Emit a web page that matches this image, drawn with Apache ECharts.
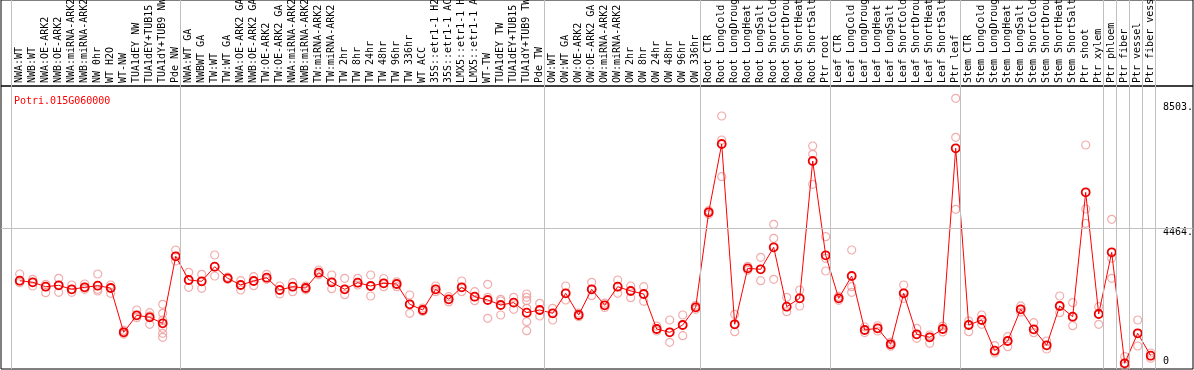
<!DOCTYPE html>
<html>
<head>
<meta charset="utf-8">
<script src="https://cdn.jsdelivr.net/npm/echarts@6/dist/echarts.min.js"></script>
<style>
html,body{margin:0;padding:0;background:#fff;}
#chart{width:1194px;height:370px;}
</style>
</head>
<body>
<div id="chart"></div>
<script>
const geneTitle = 'Potri.015G060000';

const categories = [
  'NWA:WT','NWB:WT','NWA:OE-ARK2','NWB:OE-ARK2','NWA:miRNA-ARK2','NWB:miRNA-ARK2','NW 0hr','WT H2O','WT-NW',
  'TUA1dEY NW','TUA1dEY+TUB15 NW','TUA1dY+TUB9 NW','Pde NW',
  'NWA:WT GA','NWBWT GA','TW:WT','TW:WT GA','NWA:OE-ARK2 GA','NWB:OE-ARK2 GA','TW:OE-ARK2','TW:OE-ARK2 GA',
  'NWA:miRNA-ARK2 GA','NWB:miRNA-ARK2 GA','TW:miRNA-ARK2','TW:miRNA-ARK2 GA','TW 2hr','TW 8hr','TW 24hr','TW 48hr',
  'TW 96hr','TW 336hr','WT ACC','35S::etr1-1 H2O','35S::etr1-1 ACC','LMX5::etr1-1 H2O','LMX5::etr1-1 ACC','WT-TW',
  'TUA1dEY TW','TUA1dEY+TUB15 TW','TUA1dY+TUB9 TW','Pde TW',
  'OW:WT','OW:WT GA','OW:OE-ARK2','OW:OE-ARK2 GA','OW:miRNA-ARK2','OW:miRNA-ARK2 GA','OW 2hr','OW 8hr','OW 24hr',
  'OW 48hr','OW 96hr','OW 336hr',
  'Root CTR','Root LongCold','Root LongDrought','Root LongHeat','Root LongSalt','Root ShortCold','Root ShortDrought',
  'Root ShortHeat','Root ShortSalt','Ptr root',
  'Leaf CTR','Leaf LongCold','Leaf LongDrought','Leaf LongHeat','Leaf LongSalt','Leaf ShortCold','Leaf ShortDrought',
  'Leaf ShortHeat','Leaf ShortSalt','Ptr leaf',
  'Stem CTR','Stem LongCold','Stem LongDrought','Stem LongHeat','Stem LongSalt','Stem ShortCold','Stem ShortDrought',
  'Stem ShortHeat','Stem ShortSalt','Ptr shoot','Ptr xylem',
  'Ptr phloem','Ptr fiber','Ptr vessel','Ptr fiber vessel'
];

// sizes of the separated groups (vertical separators between them)
const groupSizes = [13, 28, 12, 10, 10, 11, 1, 1, 1, 1];

const meanValues = [
  2755,2703,2561,2606,2477,2542,2594,2519,1088,1637,1572,1378,3543,
  2778,2736,3208,2833,2616,2746,2852,2455,2561,2519,3014,2703,2477,2690,2584,2671,2649,1993,1809,2477,2154,2542,2239,2132,1970,2046,1722,1809,
  1702,2348,1647,2477,1960,2561,2423,2326,1195,1088,1324,1895,
  4964,7171,1347,3155,3123,3834,1916,2186,6622,3575,
  2186,2907,1163,1218,701,2348,1024,927,1195,7032,
  1324,1486,495,807,1831,1185,668,1938,1593,5610,1680,
  3672,87,1056,333
];

const replicateValues = [
  [2972,2755,2690],[2800,2703,2584],[2639,2561,2368],[2833,2606,2380],[2616,2477,2380],[2649,2542,2477],
  [2972,2594,2477,2423],[2616,2519,2348],[1150,1088,1030],[1809,1637,1561],[1722,1620,1347],
  [1993,1702,1486,1218,1056,927],[3747,3543,3392],
  [3026,2778,2542],[2962,2736,2510],[3585,3208,2907],[2870,2833,2800],[2755,2616,2455],[2885,2746,2594],
  [2962,2852,2800],[2584,2455,2326],[2690,2561,2400],[2580,2519,2460],[3101,3014,2950],[2940,2703,2497],
  [2833,2477,2304],[2833,2690,2616],[2940,2584,2261],[2826,2671,2561],[2720,2649,2561],[2293,1993,1702],
  [1870,1809,1760],[2584,2477,2400],[2240,2154,2070],[2746,2542,2400],[2400,2239,2110],[2639,2218,1540],
  [2154,2100,1647],[2218,2046,1831],[2326,2218,2110,1863,1431,1141],[2025,1809,1615],
  [1863,1702,1486],[2584,2348,2132],[1710,1647,1590],[2703,2477,2271],[2030,1960,1890],[2778,2561,2348],
  [2584,2423,2207],[2561,2326,2089],[1290,1195,1130],[1486,1088,765],[1647,1324,979],[1960,1895,1830],
  [5020,4964,4900],[8075,7300,6114],[1669,1347,1109],[3220,3155,3090],[3511,3123,2755],[4577,4125,2800],
  [2218,1916,1755],[2455,2186,1938],[7106,6838,5869],[4177,3479,3069],
  [2250,2186,2120],[3747,2561,2380],[1260,1163,1080],[1300,1218,1130],[770,701,640],[2616,2348,2186],
  [1218,1024,895],[1001,927,733],[1290,1195,1100],[8647,7387,5061],
  [1453,1324,1109],[1647,1486,1347],[660,495,420],[947,807,624],[1940,1831,1740],[1399,1185,1077],
  [807,668,549],[2261,1938,1722],[2046,1593,1302],[7138,5071,4609],[1916,1680,1347],
  [4738,3479,2833],[300,87,0],[1486,1056,646],[420,333,250]
];

const yTickValues = [0, 4464, 8503];
</script>
<script>
const FONT = 'DejaVu Sans Mono';
// layout: 13 px per category, first category centre at x=19.7, box from x=1 to x=1193
const xMin = -(19.7 - 1) / 13;
const xMax = xMin + 1192 / 13;
const yMin = -97, yMax = 9044;
const sepOffset = 0.67;

const boundaries = [0];
groupSizes.forEach(s => boundaries.push(boundaries[boundaries.length - 1] + s));
const idx = categories.map((_, i) => i);

const vLines = boundaries.map(b => ({ xAxis: b - sepOffset }));
const gridLineStyle = { color: '#c0c0c0', width: 1, type: 'solid' };

const repData = [];
replicateValues.forEach((arr, i) => arr.forEach(v => repData.push([i, v])));

const chart = echarts.init(document.getElementById('chart'), null, { renderer: 'canvas' });
chart.setOption({
  animation: false,
  backgroundColor: '#fff',
  title: {
    text: geneTitle, left: 9, top: 91,
    textStyle: { fontFamily: FONT, fontSize: 10, fontWeight: 'normal', color: '#ff0000' }
  },
  grid: [
    { left: 1, right: 1, top: 0, height: 86, outerBoundsMode: 'none', containLabel: false,
      show: true, borderColor: '#000', borderWidth: 1, backgroundColor: 'transparent' },
    { left: 1, right: 1, top: 86, bottom: 1, outerBoundsMode: 'none', containLabel: false,
      show: true, borderColor: '#000', borderWidth: 1, backgroundColor: 'transparent' }
  ],
  xAxis: [
    {
      gridIndex: 0, type: 'value', min: xMin, max: xMax, position: 'bottom',
      axisLine: { show: false }, axisTick: { show: false }, splitLine: { show: false },
      axisLabel: {
        customValues: idx, inside: true, rotate: 90, margin: 3,
        formatter: v => categories[Math.round(v)],
        fontFamily: FONT, fontSize: 10, color: '#000'
      }
    },
    {
      gridIndex: 1, type: 'value', min: xMin, max: xMax, show: false
    }
  ],
  yAxis: [
    { gridIndex: 0, type: 'value', min: 0, max: 1, show: false },
    {
      gridIndex: 1, type: 'value', min: yMin, max: yMax, position: 'right',
      axisLine: { show: false }, axisTick: { show: false }, splitLine: { show: false },
      axisLabel: {
        customValues: yTickValues.filter(v => v !== 0), inside: true, margin: 30, align: 'left',
        verticalAlign: 'top', formatter: v => v + '.',
        fontFamily: FONT, fontSize: 10, color: '#000'
      }
    },
    {
      gridIndex: 1, type: 'value', min: yMin, max: yMax, position: 'right',
      axisLine: { show: false }, axisTick: { show: false }, splitLine: { show: false },
      axisLabel: {
        customValues: yTickValues.filter(v => v === 0), inside: true, margin: 30, align: 'left',
        verticalAlign: 'bottom', formatter: v => String(v),
        fontFamily: FONT, fontSize: 10, color: '#000'
      }
    }
  ],
  series: [
    {
      type: 'line', xAxisIndex: 0, yAxisIndex: 0, data: [[xMin - 5, -5]], showSymbol: false,
      lineStyle: { opacity: 0 }, silent: true, z: 0,
      markLine: { silent: true, symbol: 'none', label: { show: false }, lineStyle: gridLineStyle, data: vLines, animation: false }
    },
    {
      type: 'line', xAxisIndex: 1, yAxisIndex: 1, data: [[xMin - 5, yMin - 500]], showSymbol: false,
      lineStyle: { opacity: 0 }, silent: true, z: 0,
      markLine: {
        silent: true, symbol: 'none', label: { show: false }, lineStyle: gridLineStyle, animation: false,
        data: vLines.concat([{ yAxis: yTickValues[1] }])
      }
    },
    {
      type: 'scatter', xAxisIndex: 1, yAxisIndex: 1, data: repData, symbol: 'circle', symbolSize: 8,
      itemStyle: { color: 'rgba(0,0,0,0)', borderColor: '#ee9999', borderWidth: 1.2 }, silent: true, z: 1
    },
    {
      type: 'line', xAxisIndex: 1, yAxisIndex: 1, data: meanValues.map((v, i) => [i, v]),
      symbol: 'circle', symbolSize: 8, showAllSymbol: true,
      lineStyle: { color: '#ff0000', width: 1 },
      itemStyle: { color: 'rgba(0,0,0,0)', borderColor: '#ee0000', borderWidth: 1.8 },
      silent: true, z: 3
    }
  ]
});
</script>
</body>
</html>
